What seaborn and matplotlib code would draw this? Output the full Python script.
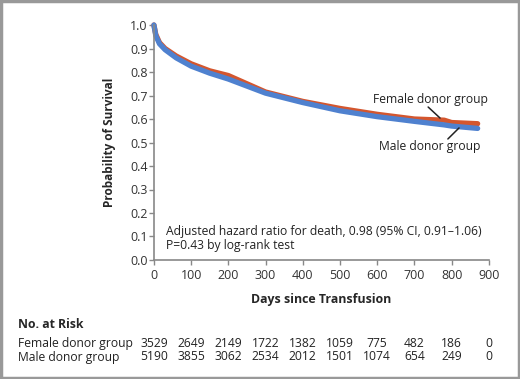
import seaborn as sns
import matplotlib.pyplot as plt
import pandas as pd
from matplotlib.patches import Rectangle

sns.set_style('ticks')
plt.rcParams['font.family'] = ['Open Sans', 'DejaVu Sans']

# survival curves
days = [0, 5, 15, 30, 60, 100, 150, 200, 250, 300, 350, 400, 500, 600, 700, 780, 800, 870]
female = [1.0, 0.96, 0.925, 0.90, 0.868, 0.835, 0.805, 0.785, 0.75, 0.715, 0.695,
          0.675, 0.645, 0.62, 0.60, 0.595, 0.585, 0.58]
male = [1.0, 0.955, 0.92, 0.895, 0.86, 0.825, 0.795, 0.77, 0.74, 0.71, 0.69,
        0.67, 0.635, 0.61, 0.59, 0.575, 0.57, 0.56]

risk_days = [0, 100, 200, 300, 400, 500, 600, 700, 800, 900]
risk_female = [3529, 2649, 2149, 1722, 1382, 1059, 775, 482, 186, 0]
risk_male = [5190, 3855, 3062, 2534, 2012, 1501, 1074, 654, 249, 0]

df = pd.DataFrame({'days': days * 2,
                   'surv': female + male,
                   'group': ['Female donor group'] * len(days) + ['Male donor group'] * len(days)})

fig = plt.figure(figsize=(5.2, 3.79), dpi=100)
ax = fig.add_axes([0.296, 0.314, 0.644, 0.62])

sns.lineplot(data=df, x='days', y='surv', hue='group',
             palette={'Female donor group': '#d4562e', 'Male donor group': '#4f81cf'},
             linewidth=3.8, legend=False, ax=ax, clip_on=False)

ax.set_xlim(0, 900)
ax.set_ylim(0, 1.0)
ax.set_xticks(range(0, 901, 100))
ax.set_yticks([i / 10 for i in range(11)])
ax.set_yticklabels([f'{i / 10:.1f}' for i in range(11)])
for s in ['top', 'right']:
    ax.spines[s].set_visible(False)
for s in ['left', 'bottom']:
    ax.spines[s].set_color('#888888')
    ax.spines[s].set_linewidth(1.2)
ax.tick_params(colors='#888888', labelcolor='#333333', labelsize=9, length=3.5, width=1)
ax.tick_params(axis='y', pad=1)
ax.tick_params(axis='x', pad=3)
ax.set_xlabel('Days since Transfusion', fontsize=8.9, fontweight='bold', labelpad=8)
ax.set_ylabel('Probability of Survival', fontsize=8.5, fontweight='bold', labelpad=10)

txt = 8.7
ax.text(32, 0.12, 'Adjusted hazard ratio for death, 0.98 (95% CI, 0.91\u20131.06)',
        fontsize=txt, va='center', color='#222222')
ax.text(32, 0.06, 'P=0.43 by log-rank test', fontsize=txt, va='center', color='#222222')

# curve labels with leader lines
ax.text(742, 0.685, 'Female donor group', fontsize=txt, ha='center', va='center', color='#222222')
ax.text(742, 0.485, 'Male donor group', fontsize=txt, ha='center', va='center', color='#222222')
ax.annotate('', xy=(769, 0.604), xytext=(737, 0.651),
            arrowprops=dict(arrowstyle='-', color='#222222', lw=1.1, shrinkA=0, shrinkB=0))
ax.annotate('', xy=(820, 0.562), xytext=(790, 0.515),
            arrowprops=dict(arrowstyle='-', color='#222222', lw=1.1, shrinkA=0, shrinkB=0))

# number at risk table
fig.text(18 / 520, 1 - 324 / 379, 'No. at Risk', fontsize=8.8, fontweight='bold', va='center')
for name, vals, ypix in [('Female donor group', risk_female, 344),
                         ('Male donor group', risk_male, 357)]:
    fig.text(18 / 520, 1 - ypix / 379, name, fontsize=txt, va='center', color='#222222')
    for d, v in zip(risk_days, vals):
        t = ax.text(d, 0, str(v), fontsize=txt, ha='center', va='center', color='#222222',
                    transform=ax.get_xaxis_transform(), clip_on=False)
        t.set_y(-(ypix - 260) / (0.62 * 379))

fig.patches.append(Rectangle((0.002, 0.003), 0.996, 0.994, transform=fig.transFigure,
                             fill=False, edgecolor='#999999', linewidth=2.5))

fig.savefig('out.png', dpi=100)
